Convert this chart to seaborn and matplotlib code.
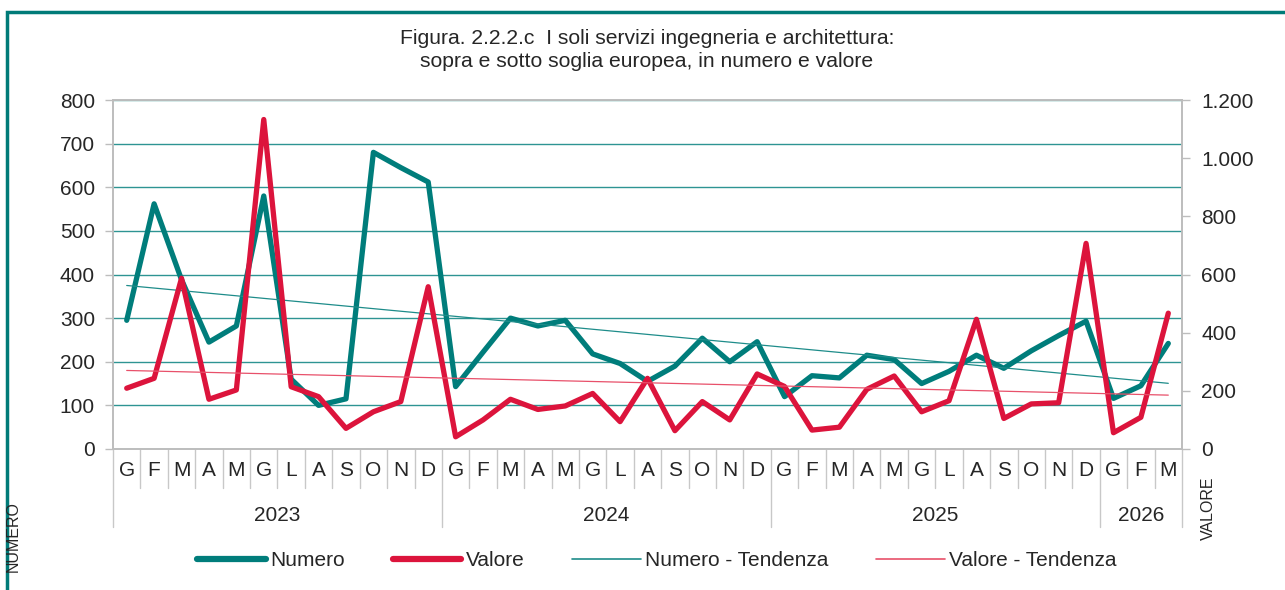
import matplotlib
matplotlib.use('Agg')
import matplotlib.pyplot as plt
import matplotlib.transforms as mtransforms
from matplotlib.lines import Line2D
from matplotlib.patches import Rectangle
from matplotlib.ticker import FuncFormatter
import numpy as np
import pandas as pd
import seaborn as sns

# data
anni = ['2023', '2024', '2025', '2026']
mesi_per_anno = [12, 12, 12, 3]
lettere_mesi = ['G', 'F', 'M', 'A', 'M', 'G', 'L', 'A', 'S', 'O', 'N', 'D']

numero = [295, 562, 388, 245, 282, 580, 160, 100, 115, 680, 645, 612,
          143, 222, 300, 282, 295, 218, 196, 155, 190, 254, 200, 246,
          120, 168, 163, 215, 205, 150, 178, 215, 185, 225, 260, 293,
          116, 145, 242]
valore = [209, 243, 587, 171, 203, 1133, 214, 180, 71, 128, 163, 558,
          42, 100, 171, 136, 148, 191, 94, 243, 63, 163, 100, 258,
          215, 65, 75, 205, 251, 128, 166, 446, 105, 155, 159, 707,
          56, 109, 467]

mesi = [m for n in mesi_per_anno for m in lettere_mesi[:n]]
df = pd.DataFrame({'pos': range(len(mesi)), 'mese': mesi,
                   'Numero': numero, 'Valore': valore})

TEAL = '#007D7B'
RED = '#DC143C'
TEAL_TREND = '#1E8C8A'
RED_TREND = '#E8506A'
GREY = '#BDBDBD'

sns.set_style('white')
plt.rcParams['font.family'] = ['Liberation Sans', 'DejaVu Sans']

W, H = 1285, 590
fig = plt.figure(figsize=(W / 100, H / 100), dpi=100)
left, right, top, bottom = 113, 1182, 100, 449
ax = fig.add_axes([left / W, 1 - bottom / H, (right - left) / W, (bottom - top) / H])
ax2 = ax.twinx()

sns.lineplot(data=df, x='pos', y='Numero', ax=ax, color=TEAL, linewidth=3.8,
             solid_joinstyle='round', solid_capstyle='round', zorder=3)
sns.regplot(data=df, x='pos', y='Numero', ax=ax, scatter=False, ci=None,
            truncate=True, line_kws={'color': TEAL_TREND, 'linewidth': 0.9, 'zorder': 4})
sns.lineplot(data=df, x='pos', y='Valore', ax=ax2, color=RED, linewidth=3.8,
             solid_joinstyle='round', solid_capstyle='round', zorder=3)
sns.regplot(data=df, x='pos', y='Valore', ax=ax2, scatter=False, ci=None,
            truncate=True, line_kws={'color': RED_TREND, 'linewidth': 0.9, 'zorder': 4})

n = len(mesi)
ax.set_xlim(-0.5, n - 0.5)
ax.set_ylim(0, 800)
ax2.set_ylim(0, 1200)
ax.set_yticks(range(0, 801, 100))
ax2.set_yticks(range(0, 1201, 200))
ax2.yaxis.set_major_formatter(FuncFormatter(lambda v, p: f'{int(v):,}'.replace(',', '.')))

ax.set_xticks(df['pos'])
ax.set_xticklabels(mesi)
ax.tick_params(axis='x', length=0, pad=9, labelsize=15)
ax.tick_params(axis='y', length=6, width=1, color=GREY, pad=7, labelsize=15, direction='out', left=True)
ax2.tick_params(axis='y', length=6, width=1, color=GREY, pad=8, labelsize=15, direction='out', right=True)
ax.set_xlabel('')
ax.set_ylabel('')
ax2.set_xlabel('')
ax2.set_ylabel('')

ax.yaxis.grid(True, color='#2E9493', linewidth=1)
ax.set_axisbelow(True)
for a in (ax, ax2):
    for s in a.spines.values():
        s.set_color(GREY)
        s.set_linewidth(1.2)

# category separators under the axis
trans = mtransforms.blended_transform_factory(ax.transData, ax.transAxes)
bordi_anno = np.cumsum([0] + mesi_per_anno) - 0.5
for k in range(n + 1):
    x = k - 0.5
    y_end = -0.2235 if x in bordi_anno else -0.112
    ax.add_line(Line2D([x, x], [0, y_end], transform=trans, color='#C8C8C8',
                       linewidth=1, clip_on=False))
for anno, a0, a1 in zip(anni, bordi_anno[:-1], bordi_anno[1:]):
    ax.text((a0 + a1) / 2, -0.19, anno, transform=trans, ha='center', va='center',
            fontsize=15)

# axis titles
fig.text(13 / W, 1 - 537 / H, 'NUMERO', rotation=90, ha='center', va='center', fontsize=11.5)
fig.text(1208 / W, 1 - 508 / H, 'VALORE', rotation=90, ha='center', va='center', fontsize=11.5)

fig.text(647 / W, 1 - 50 / H,
         'Figura. 2.2.2.c  I soli servizi ingegneria e architettura:\nsopra e sotto soglia europea, in numero e valore',
         ha='center', va='center', fontsize=15.2, linespacing=1.25)

handles = [Line2D([], [], color=TEAL, linewidth=4.5, solid_capstyle='round'),
           Line2D([], [], color=RED, linewidth=4.5, solid_capstyle='round'),
           Line2D([], [], color=TEAL_TREND, linewidth=1.2),
           Line2D([], [], color=RED_TREND, linewidth=1.2)]
labels = ['Numero', 'Valore', 'Numero - Tendenza', 'Valore - Tendenza']
fig.legend(handles, labels, loc='center', bbox_to_anchor=(657 / W, 1 - 561 / H), ncol=4,
           frameon=False, fontsize=15, handlelength=3.3, handletextpad=0.2,
           columnspacing=2.3)

fig.add_artist(Rectangle((7 / W, -0.05), 1.1, 1 - 12.5 / H + 0.05, transform=fig.transFigure,
                         fill=False, edgecolor='#007B78', linewidth=2.5))

fig.savefig('out.png', dpi=100)
